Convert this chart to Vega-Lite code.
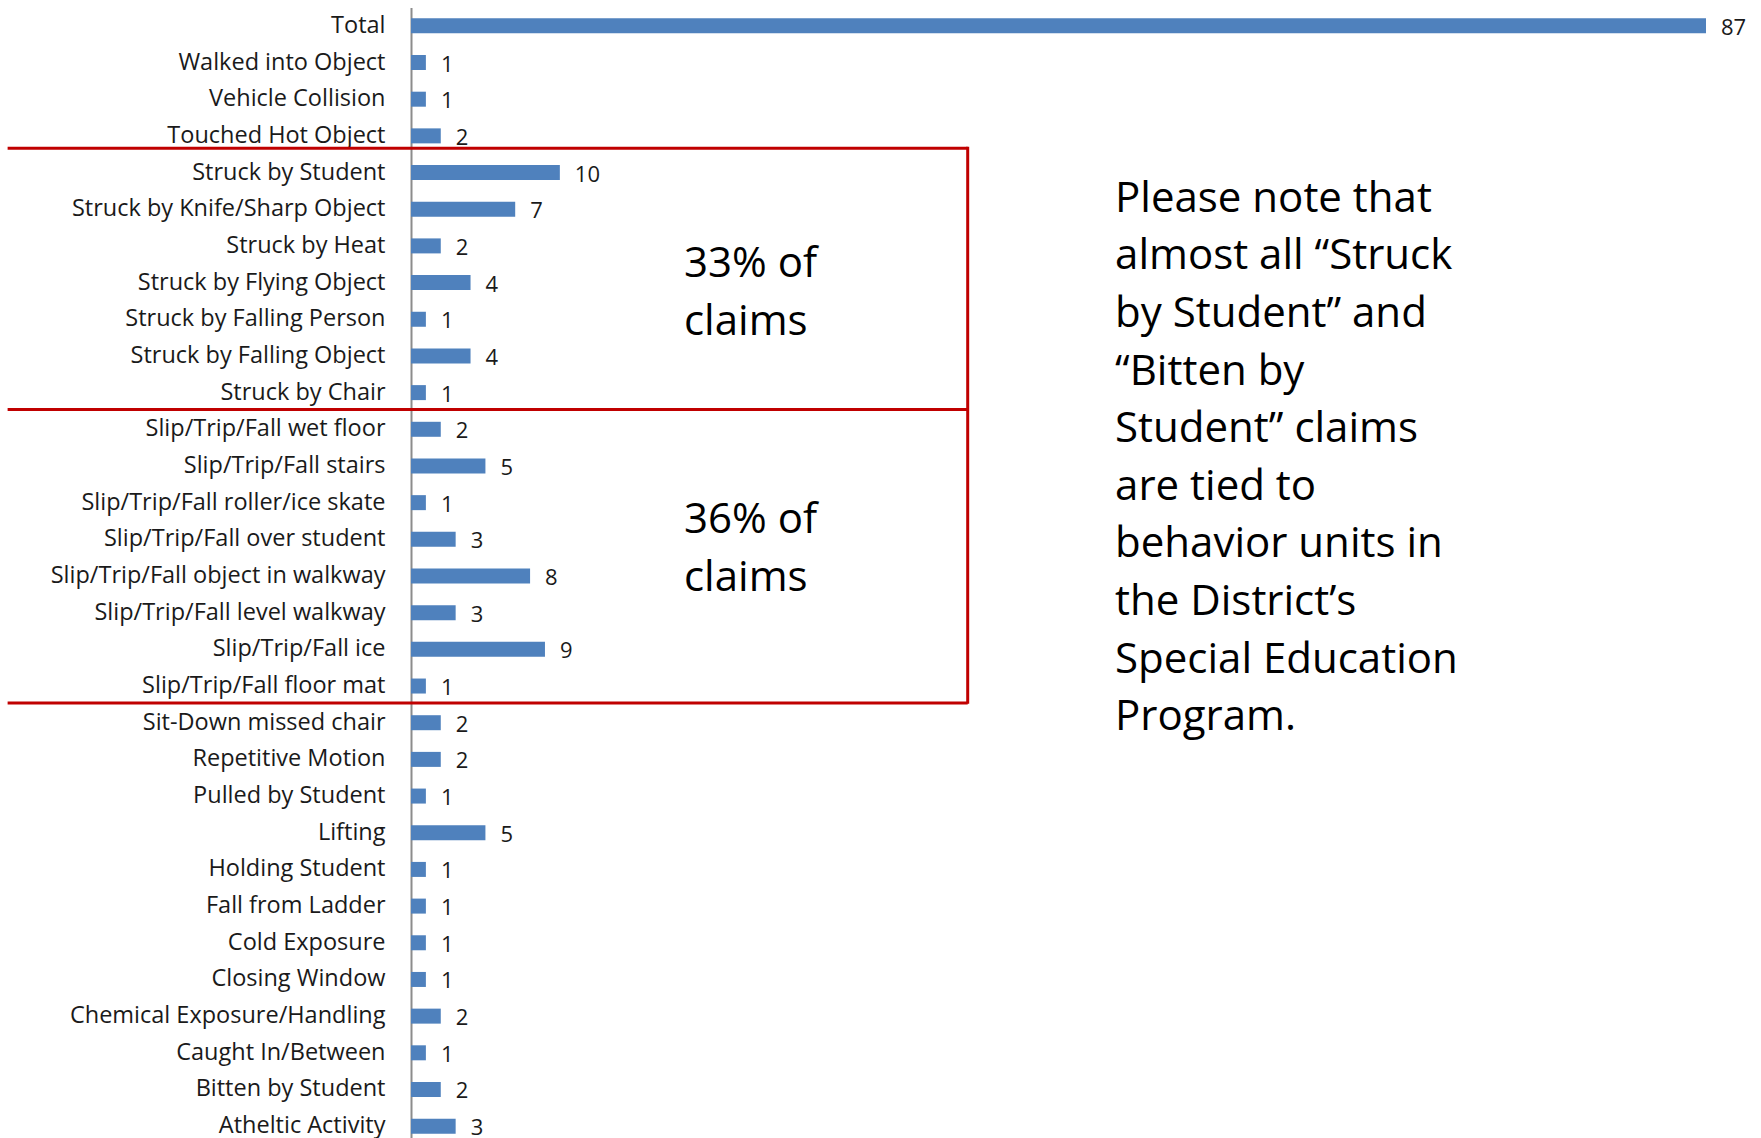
{
  "$schema": "https://vega.github.io/schema/vega-lite/v6.json",
  "autosize": "none",
  "width": 1295,
  "height": 1137,
  "padding": {"left": 411, "top": 7.5, "right": 55, "bottom": 0},
  "background": "white",
  "config": {"view": {"stroke": null}, "font": "Open Sans"},
  "datasets": {
    "claims": [
      {"cause": "Total", "claims": 87},
      {"cause": "Walked into Object", "claims": 1},
      {"cause": "Vehicle Collision", "claims": 1},
      {"cause": "Touched Hot Object", "claims": 2},
      {"cause": "Struck by Student", "claims": 10},
      {"cause": "Struck by Knife/Sharp Object", "claims": 7},
      {"cause": "Struck by Heat", "claims": 2},
      {"cause": "Struck by Flying Object", "claims": 4},
      {"cause": "Struck by Falling Person", "claims": 1},
      {"cause": "Struck by Falling Object", "claims": 4},
      {"cause": "Struck by Chair", "claims": 1},
      {"cause": "Slip/Trip/Fall wet floor", "claims": 2},
      {"cause": "Slip/Trip/Fall stairs", "claims": 5},
      {"cause": "Slip/Trip/Fall roller/ice skate", "claims": 1},
      {"cause": "Slip/Trip/Fall over student", "claims": 3},
      {"cause": "Slip/Trip/Fall object in walkway", "claims": 8},
      {"cause": "Slip/Trip/Fall level walkway", "claims": 3},
      {"cause": "Slip/Trip/Fall ice", "claims": 9},
      {"cause": "Slip/Trip/Fall floor mat", "claims": 1},
      {"cause": "Sit-Down missed chair", "claims": 2},
      {"cause": "Repetitive Motion", "claims": 2},
      {"cause": "Pulled by Student", "claims": 1},
      {"cause": "Lifting", "claims": 5},
      {"cause": "Holding Student", "claims": 1},
      {"cause": "Fall from Ladder", "claims": 1},
      {"cause": "Cold Exposure", "claims": 1},
      {"cause": "Closing Window", "claims": 1},
      {"cause": "Chemical Exposure/Handling", "claims": 2},
      {"cause": "Caught In/Between", "claims": 1},
      {"cause": "Bitten by Student", "claims": 2},
      {"cause": "Atheltic Activity", "claims": 3}
    ],
    "boundaries": [
      {"boundary": "Slip/Trip/Fall wet floor"},
      {"boundary": "Sit-Down missed chair"}
    ]
  },
  "layer": [
    {
      "data": {"name": "claims"},
      "mark": {"type": "bar", "size": 15, "color": "#4F81BD"},
      "encoding": {
        "y": {
          "field": "cause", "type": "nominal", "sort": null,
          "scale": {"paddingInner": 0, "paddingOuter": 0},
          "axis": {
            "title": null, "ticks": false, "grid": false,
            "domain": true, "domainColor": "#8c8c8c", "domainWidth": 2,
            "labelFontSize": 23.5, "labelColor": "#1a1a1a", "labelPadding": 26,
            "labelLimit": 500, "labelFont": "Open Sans"
          }
        },
        "x": {
          "field": "claims", "type": "quantitative",
          "scale": {"domain": [0, 87], "nice": false, "zero": true},
          "axis": null
        }
      }
    },
    {
      "data": {"name": "claims"},
      "mark": {"type": "text", "align": "left", "baseline": "middle", "dx": 15, "dy": 2, "fontSize": 22, "color": "#1a1a1a"},
      "encoding": {
        "y": {"field": "cause", "type": "nominal", "sort": null},
        "x": {"field": "claims", "type": "quantitative"},
        "text": {"field": "claims", "type": "quantitative"}
      }
    },
    {
      "data": {"name": "boundaries"},
      "mark": {"type": "rule", "color": "#C00000", "strokeWidth": 3},
      "encoding": {
        "y": {"field": "boundary", "type": "nominal", "sort": null, "bandPosition": -0.04},
        "x": {"datum": -27.1, "type": "quantitative"},
        "x2": {"datum": 37.4}
      }
    },
    {
      "data": {"values": [{}]},
      "mark": {"type": "rule", "color": "#C00000", "strokeWidth": 3},
      "encoding": {
        "y": {"datum": "Struck by Student", "type": "nominal", "bandPosition": -0.16},
        "x": {"datum": -27.1, "type": "quantitative"},
        "x2": {"datum": 37.4}
      }
    },
    {
      "data": {"values": [{}]},
      "mark": {"type": "rule", "color": "#C00000", "strokeWidth": 3},
      "encoding": {
        "x": {"datum": 37.4, "type": "quantitative"},
        "y": {"datum": "Struck by Student", "type": "nominal", "bandPosition": -0.2},
        "y2": {"datum": "Sit-Down missed chair", "bandPosition": -0.02}
      }
    },
    {
      "data": {"values": [{}]},
      "mark": {"type": "text", "align": "left", "baseline": "middle", "fontSize": 42, "lineHeight": 58, "color": "#000000", "dy": 18},
      "encoding": {
        "x": {"datum": 18.34, "type": "quantitative"},
        "y": {"datum": "Struck by Heat", "type": "nominal"},
        "text": {"value": ["33% of", "claims"]}
      }
    },
    {
      "data": {"values": [{}]},
      "mark": {"type": "text", "align": "left", "baseline": "middle", "fontSize": 42, "lineHeight": 58, "color": "#000000", "dy": 17.5},
      "encoding": {
        "x": {"datum": 18.34, "type": "quantitative"},
        "y": {"datum": "Slip/Trip/Fall roller/ice skate", "type": "nominal"},
        "text": {"value": ["36% of", "claims"]}
      }
    },
    {
      "data": {"values": [{}]},
      "mark": {"type": "text", "align": "left", "baseline": "middle", "fontSize": 42, "lineHeight": 57.6, "color": "#000000", "dy": -10.5},
      "encoding": {
        "x": {"datum": 47.3, "type": "quantitative"},
        "y": {"datum": "Struck by Knife/Sharp Object", "type": "nominal"},
        "text": {"value": ["Please note that", "almost all \u201cStruck", "by Student\u201d and", "\u201cBitten by", "Student\u201d claims", "are tied to", "behavior units in", "the District\u2019s", "Special Education", "Program."]}
      }
    }
  ]
}
